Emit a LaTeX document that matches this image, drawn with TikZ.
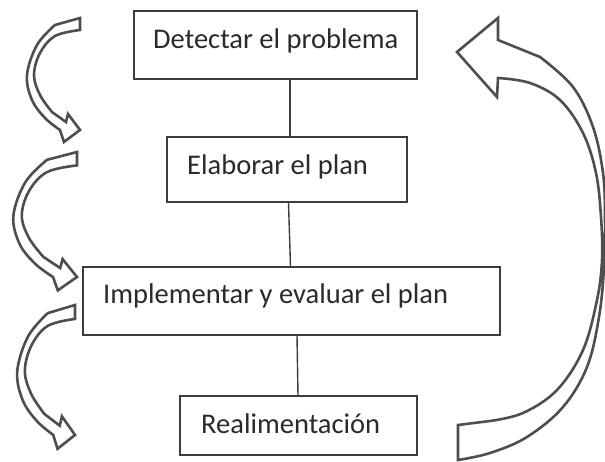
\documentclass[tikz,border=0pt]{standalone}
\usepackage{fontspec}
\setmainfont{Carlito}
\definecolor{boxline}{HTML}{3C3C3C}
\definecolor{arrline}{HTML}{4E4E4E}
\definecolor{txt}{HTML}{2A2A2A}
\begin{document}
\begin{tikzpicture}[x=1pt,y=-1pt,
  stepbox/.style={draw=boxline,line width=1.6pt,fill=white,inner sep=0pt},
  steptext/.style={anchor=west,inner sep=0pt,text=txt,font=\fontsize{28.5}{32}\selectfont},
  link/.style={draw=boxline,line width=1.4pt},
  blockarrow/.style={draw=arrline,line width=2.6pt,fill=white,line join=miter}]
\useasboundingbox (0,0) rectangle (605,462);
% boxes
\node[stepbox,minimum width=283pt,minimum height=68pt] (b1) at (275.5,45) {};
\node[stepbox,minimum width=240pt,minimum height=65pt] (b2) at (287,169.5) {};
\node[stepbox,minimum width=417pt,minimum height=68pt] (b3) at (291.5,301) {};
\node[stepbox,minimum width=237pt,minimum height=59pt] (b4) at (298.5,425.5) {};
% texts
\node[steptext] (t1) at (153,41) {Detectar el problema};
\node[steptext] (t2) at (187,167) {Elaborar el plan};
\node[steptext] (t3) at (103,296) {Implementar y evaluar el plan};
\node[steptext] (t4) at (201,424) {Realimentación};
% connectors
\coordinate (c12) at (290,0);
\coordinate (c23a) at (288.5,0);
\coordinate (c23b) at (290.5,0);
\coordinate (c34a) at (297,0);
\coordinate (c34b) at (298,0);
\draw[link] (b1.south -| c12) -- (b2.north -| c12);
\draw[link] (b2.south -| c23a) -- (b3.north -| c23b);
\draw[link] (b3.south -| c34a) -- (b4.north -| c34b);
% big feedback arrow on the right
\draw[blockarrow] (457,52) -- (498,18) -- (498,40)
  -- plot[smooth,tension=0.6] coordinates {(540,57) (573,87) (593,127) (603,173) (605,217) (604,267) (599,317) (587,367) (563,407) (527,437) (490,453) (458,460)}
  -- (458,425)
  -- plot[smooth,tension=0.6] coordinates {(490,421) (523,413) (557,390) (583,350) (597,300) (602,260) (601,217) (596,173) (583,133) (560,100) (530,83) (498,78)}
  -- (497,97) -- cycle;
% small curved arrows on the left
\foreach \sx/\sy/\kx/\ky in {80/18/1/1, 77/152/1.2/1.116, 75/305/1.09/1.16}{
  \begin{scope}[shift={(\sx,\sy)},xscale=\kx,yscale=\ky]
    \draw[blockarrow] (0,0)
      -- plot[smooth,tension=0.6] coordinates {(-25,7) (-43,27) (-53,57) (-48,82) (-35,100) (-20,112)}
      -- (-16,124) -- (0,112) -- (-12,96) -- (-14,104)
      -- plot[smooth,tension=0.6] coordinates {(-28,94) (-40,77) (-46,57) (-40,35) (-25,18) (0,12)}
      -- cycle;
  \end{scope}
}
\end{tikzpicture}
\end{document}
